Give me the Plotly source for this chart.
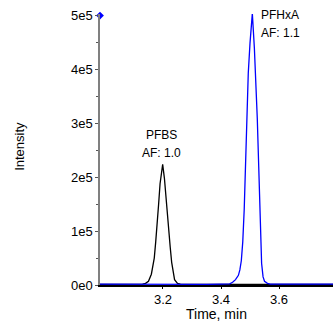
import plotly.graph_objects as go

# PFBS (black) trace
pfbs_time = [2.98, 3.02, 3.06, 3.10, 3.13, 3.14, 3.15, 3.16, 3.17, 3.175, 3.18, 3.185, 3.19, 3.195,
             3.199, 3.205, 3.21, 3.215, 3.22, 3.225, 3.23, 3.235, 3.24, 3.25, 3.26, 3.30, 3.40,
             3.50, 3.60, 3.70, 3.79]
pfbs_int = [1200, 1000, 1300, 1100, 1500, 3000, 7000, 20000, 50000, 80000, 110000, 150000, 188000, 215000,
            224000, 198000, 162000, 130000, 100000, 70000, 42000, 22000, 10000, 3000, 1500, 1100, 1200,
            1000, 1300, 1100, 1200]

# PFHxA (blue) trace
pfhxa_time = [2.98, 3.05, 3.10, 3.15, 3.20, 3.25, 3.30, 3.35, 3.40, 3.43, 3.44, 3.45, 3.46, 3.465,
              3.47, 3.475, 3.48, 3.485, 3.49, 3.494, 3.50, 3.508, 3.515, 3.52, 3.525, 3.53, 3.535,
              3.54, 3.545, 3.55, 3.56, 3.57, 3.60, 3.65, 3.70, 3.75, 3.79]
pfhxa_int = [1500, 1200, 1400, 1100, 1300, 1200, 1400, 1200, 1500, 2000, 5000, 10000, 18000, 28000,
             45000, 80000, 140000, 230000, 330000, 393000, 449000, 504000, 440000, 380000, 310000,
             220000, 120000, 40000, 15000, 7000, 3000, 1800, 1500, 1300, 1600, 1400, 1500]

y_tickvals = [0, 100000, 200000, 300000, 400000, 500000]
y_ticktext = ["0e0", "1e5", "2e5", "3e5", "4e5", "5e5"]
x_tickvals = [3.2, 3.4, 3.6]
x_ticktext = ["3.2", "3.4", "3.6"]

labels = [
    dict(x=3.1955, y=278000, text="PFBS", xanchor="center"),
    dict(x=3.1955, y=245000, text="AF: 1.0", xanchor="center"),
    dict(x=3.532, y=501000, text="PFHxA", xanchor="left"),
    dict(x=3.532, y=468000, text="AF: 1.1", xanchor="left"),
]

FONT = "Liberation Sans, Arial, sans-serif"
x_range = [2.983, 3.786]
y_range = [0, 503000]

fig = go.Figure()
fig.add_trace(go.Scatter(x=pfbs_time, y=pfbs_int, mode="lines",
                         line=dict(color="black", width=1.3), showlegend=False))
fig.add_trace(go.Scatter(x=pfhxa_time, y=pfhxa_int, mode="lines",
                         line=dict(color="#0000ff", width=1.3), showlegend=False))
fig.add_trace(go.Scatter(x=[x_range[0]], y=[y_tickvals[-1]], mode="markers",
                         marker=dict(color="#0000ff", size=6, symbol="diamond"),
                         cliponaxis=False, showlegend=False))

for a in labels:
    fig.add_annotation(x=a["x"], y=a["y"], text=a["text"], xanchor=a["xanchor"],
                       yanchor="middle", showarrow=False,
                       font=dict(family=FONT, size=12, color="black"))

fig.add_annotation(xref="paper", yref="paper", x=-0.343, y=0.51, text="Intensity",
                   textangle=-90, showarrow=False, xanchor="center", yanchor="middle",
                   font=dict(family=FONT, size=13, color="black"))
fig.add_annotation(xref="paper", yref="paper", x=0.5, y=-0.108, text="Time, min",
                   showarrow=False, xanchor="center", yanchor="middle",
                   font=dict(family=FONT, size=14, color="black"))

fig.update_layout(
    width=333, height=324,
    margin=dict(l=100, r=0, t=14, b=39),
    paper_bgcolor="white", plot_bgcolor="white",
    font=dict(family=FONT, size=13, color="black"),
    xaxis=dict(range=x_range, tickvals=x_tickvals, ticktext=x_ticktext,
               showgrid=False, zeroline=False, showline=True, linecolor="black",
               linewidth=1.5, ticks="outside", ticklen=2, tickcolor="black",
               tickfont=dict(family=FONT, size=13), automargin=False),
    yaxis=dict(range=y_range, tickvals=y_tickvals, ticktext=y_ticktext,
               showgrid=False, zeroline=False, showline=True, linecolor="#808080",
               linewidth=1.5, ticks="outside", ticklen=3, tickcolor="#555555",
               tickfont=dict(family=FONT, size=13), automargin=False,
               minor=dict(tickvals=[50000, 150000, 250000, 350000, 450000],
                          ticks="outside", ticklen=2, tickcolor="#555555")),
)

# remove the page's default 8px body margin so the figure sits at the window's top-left corner
fig.write_html(
    "out.html",
    config={"displayModeBar": False},
    post_script="document.body.style.margin='0';document.body.style.overflow='hidden';",
)
